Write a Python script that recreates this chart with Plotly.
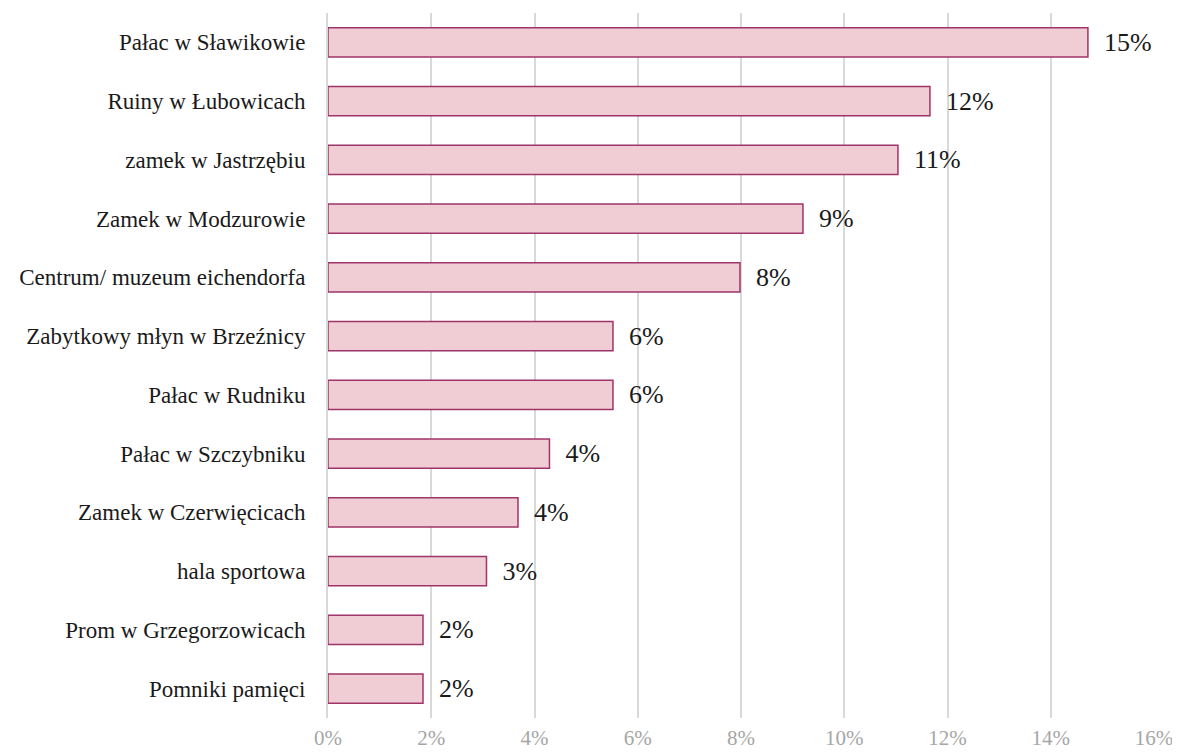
import plotly.graph_objects as go

categories = [
    "Pałac w Sławikowie",
    "Ruiny w Łubowicach",
    "zamek w Jastrzębiu",
    "Zamek w Modzurowie",
    "Centrum/ muzeum eichendorfa",
    "Zabytkowy młyn w Brzeźnicy",
    "Pałac w Rudniku",
    "Pałac w Szczybniku",
    "Zamek w Czerwięcicach",
    "hala sportowa",
    "Prom w Grzegorzowicach",
    "Pomniki pamięci",
]

values = [14.72, 11.66, 11.04, 9.20, 7.98, 5.52, 5.52, 4.29, 3.68, 3.07, 1.84, 1.84]

tick_vals = [0, 2, 4, 6, 8, 10, 12, 14, 16]
tick_text = ["0%", "2%", "4%", "6%", "8%", "10%", "12%", "14%", "16%"]

labels = ["\u00a0\u00a0" + f"{round(v)}%" for v in values]

serif = "Liberation Serif, Times New Roman, DejaVu Serif, serif"

fig = go.Figure()
fig.add_trace(go.Bar(
    y=categories,
    x=values,
    orientation="h",
    marker=dict(color="#F0CDD4", line=dict(color="#9E3468", width=1.5)),
    text=labels,
    textposition="outside",
    textfont=dict(family=serif, size=26, color="#1a1a1a"),
    cliponaxis=False,
))

# page body has an 8px margin, so the figure is shrunk by that much
fig.update_layout(
    width=1172,
    height=745,
    margin=dict(l=320, r=26, t=5, b=35),
    paper_bgcolor="white",
    plot_bgcolor="white",
    bargap=0.5,
    showlegend=False,
    font=dict(family=serif, color="#1a1a1a"),
)

fig.update_xaxes(
    range=[0, 16],
    tickvals=tick_vals,
    ticktext=tick_text,
    tickfont=dict(family=serif, size=21, color="#a6a6a6"),
    showgrid=True,
    gridcolor="#d9d9d9",
    gridwidth=1.5,
    zeroline=False,
    showline=False,
    automargin=False,
    ticklabeloverflow="allow",
    ticklabelstandoff=5,
)

fig.update_yaxes(
    categoryorder="array",
    categoryarray=categories[::-1],
    tickfont=dict(family=serif, size=23, color="#1a1a1a"),
    showline=True,
    linecolor="#d9d9d9",
    linewidth=2,
    automargin=False,
    ticklabelstandoff=16,
)

fig.write_html("out.html")
